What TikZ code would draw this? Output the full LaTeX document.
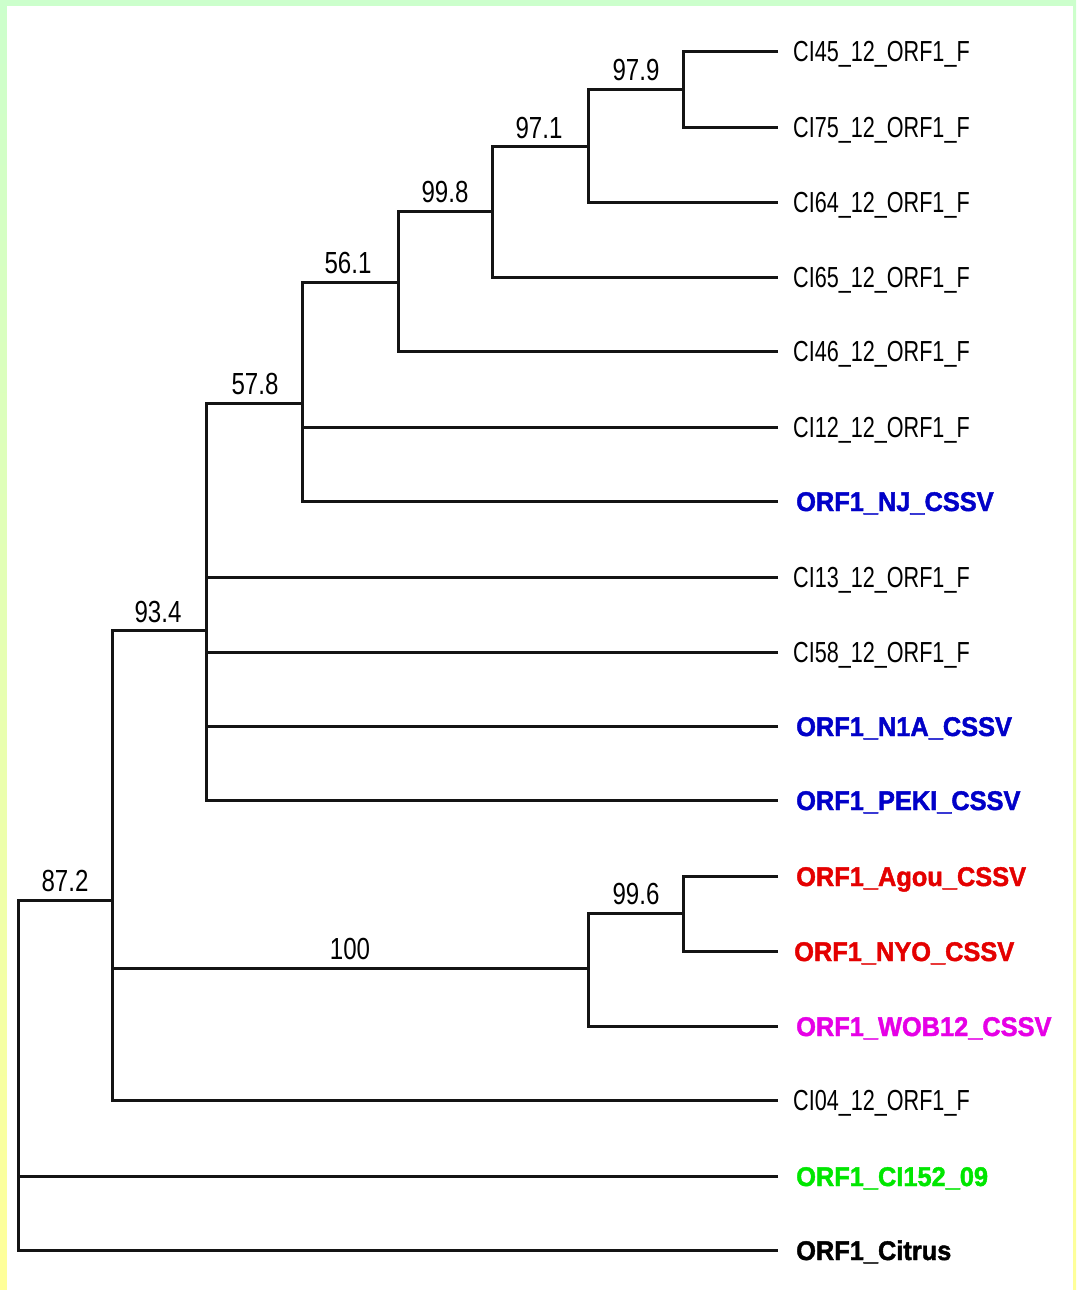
\documentclass[tikz,border=0pt]{standalone}
\usepackage{fontspec}
\setmainfont{Liberation Sans}
\newfontfamily\heavyfont[FakeBold=1.6]{Liberation Sans Bold}
\definecolor{bordtop}{HTML}{CCFFCC}
\definecolor{bordbot}{HTML}{FFFF99}
\definecolor{labblue}{RGB}{0,0,200}
\definecolor{labred}{RGB}{228,0,0}
\definecolor{labmag}{RGB}{230,0,230}
\definecolor{labgreen}{RGB}{0,230,0}
\newcommand\mycond[1]{\scalebox{0.745}[1]{#1}}
\newcommand\mynum[1]{\scalebox{0.79}[1]{#1}}
\newcommand\mybold[1]{\scalebox{0.94}[1]{#1}}
\begin{document}
\begin{tikzpicture}[x=1pt,y=-1pt,
  branch/.style={line width=3pt, line join=miter, draw=black!92},
  leaflab/.style={anchor=base west, inner sep=0pt, font=\fontsize{29}{34}\selectfont},
  boldlab/.style={anchor=base west, inner sep=0pt, font=\fontsize{27}{32}\heavyfont},
  support/.style={anchor=base, inner sep=0pt, font=\fontsize{30.5}{36}\selectfont}]
% background and frame
\useasboundingbox (0,0) rectangle (1076,1290);
\shade[top color=bordtop, bottom color=bordbot] (0,0) rectangle (1076,1290);
\fill[white] (7,6) rectangle (1073,1290);
% leaf tips
\coordinate (t1) at (778,52);
\coordinate (t2) at (778,127);
\coordinate (t3) at (778,202);
\coordinate (t4) at (778,277);
\coordinate (t5) at (778,351);
\coordinate (t6) at (778,427);
\coordinate (t7) at (778,501);
\coordinate (t8) at (778,577);
\coordinate (t9) at (778,652);
\coordinate (t10) at (778,726);
\coordinate (t11) at (778,800);
\coordinate (t12) at (778,876);
\coordinate (t13) at (778,951);
\coordinate (t14) at (778,1026);
\coordinate (t15) at (778,1100);
\coordinate (t16) at (778,1176);
\coordinate (t17) at (778,1250);
% internal nodes
\coordinate (n9) at (683,89);
\coordinate (n8) at (588,146);
\coordinate (n7) at (492,211);
\coordinate (n6) at (398,282);
\coordinate (n5) at (302,403);
\coordinate (n4) at (206,630);
\coordinate (n3) at (683,913);
\coordinate (n2) at (588,968);
\coordinate (n1) at (112,900);
\coordinate (r) at (18,1075);
% branches
\draw[branch] (t1) -| (n9) |- (t2);
\draw[branch] (n9) -| (n8) |- (t3);
\draw[branch] (n8) -| (n7) |- (t4);
\draw[branch] (n7) -| (n6) |- (t5);
\draw[branch] (n6) -| (n5) |- (t7);
\draw[branch] (t6) -- (t6 -| n5);
\draw[branch] (n5) -| (n4) |- (t11);
\draw[branch] (t8) -- (t8 -| n4);
\draw[branch] (t9) -- (t9 -| n4);
\draw[branch] (t10) -- (t10 -| n4);
\draw[branch] (t12) -| (n3) |- (t13);
\draw[branch] (n3) -| (n2) |- (t14);
\draw[branch] (n4) -| (n1) |- (t15);
\draw[branch] (n2) -- (n2 -| n1);
\draw[branch] (n1) -| (r) |- (t17);
\draw[branch] (t16) -- (t16 -| r);
% support values
\node[support] (s9) at (636,81) {\mynum{97.9}};
\node[support] (s8) at (539,138) {\mynum{97.1}};
\node[support] (s7) at (445,202) {\mynum{99.8}};
\node[support] (s6) at (348,273) {\mynum{56.1}};
\node[support] (s5) at (255,394) {\mynum{57.8}};
\node[support] (s4) at (158,622) {\mynum{93.4}};
\node[support] (s3) at (636,904) {\mynum{99.6}};
\node[support] (s2) at (350,959) {\mynum{100}};
\node[support] (s1) at (65,891) {\mynum{87.2}};
% leaf labels
\node[leaflab] (l1) at (793,62) {\mycond{CI45\_12\_ORF1\_F}};
\node[leaflab] (l2) at (793,137) {\mycond{CI75\_12\_ORF1\_F}};
\node[leaflab] (l3) at (793,212) {\mycond{CI64\_12\_ORF1\_F}};
\node[leaflab] (l4) at (793,287) {\mycond{CI65\_12\_ORF1\_F}};
\node[leaflab] (l5) at (793,361) {\mycond{CI46\_12\_ORF1\_F}};
\node[leaflab] (l6) at (793,437) {\mycond{CI12\_12\_ORF1\_F}};
\node[boldlab, text=labblue] (l7) at (796,511) {\mybold{ORF1\_NJ\_CSSV}};
\node[leaflab] (l8) at (793,587) {\mycond{CI13\_12\_ORF1\_F}};
\node[leaflab] (l9) at (793,662) {\mycond{CI58\_12\_ORF1\_F}};
\node[boldlab, text=labblue] (l10) at (796,736) {\mybold{ORF1\_N1A\_CSSV}};
\node[boldlab, text=labblue] (l11) at (796,810) {\mybold{ORF1\_PEKI\_CSSV}};
\node[boldlab, text=labred] (l12) at (796,886) {\mybold{ORF1\_Agou\_CSSV}};
\node[boldlab, text=labred] (l13) at (794,961) {\mybold{ORF1\_NYO\_CSSV}};
\node[boldlab, text=labmag] (l14) at (796,1036) {\mybold{ORF1\_WOB12\_CSSV}};
\node[leaflab] (l15) at (793,1110) {\mycond{CI04\_12\_ORF1\_F}};
\node[boldlab, text=labgreen] (l16) at (796,1186) {\mybold{ORF1\_CI152\_09}};
\node[boldlab, text=black] (l17) at (796,1260) {\mybold{ORF1\_Citrus}};
\end{tikzpicture}
\end{document}
